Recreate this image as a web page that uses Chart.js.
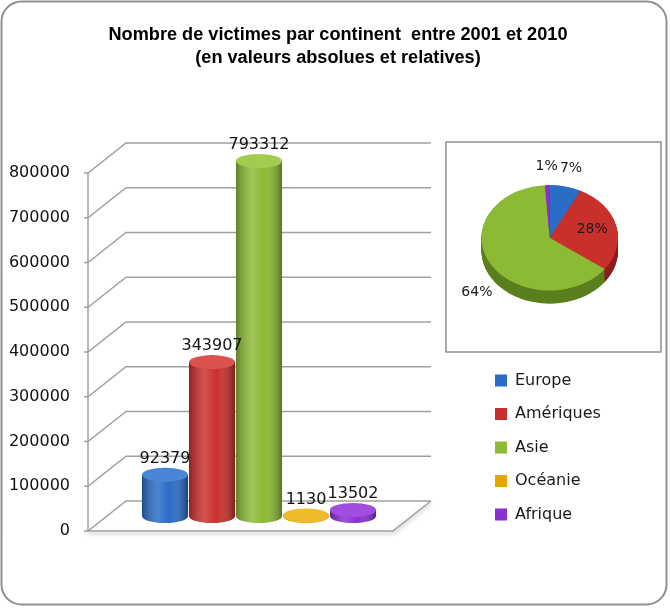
<!DOCTYPE html>
<html lang="fr">
<head>
<meta charset="utf-8">
<title>Nombre de victimes par continent entre 2001 et 2010</title>
<script src="https://cdn.jsdelivr.net/npm/chart.js@4.4.1/dist/chart.umd.min.js"></script>
<style>
  html, body { margin: 0; padding: 0; background: #fff; }
  #wrap { position: relative; width: 670px; height: 608px; }
  #bars { position: absolute; left: 0; top: 0; }
  #pie { position: absolute; left: 440px; top: 120px; }
</style>
</head>
<body>
<div id="wrap">
  <canvas id="bars" width="670" height="608"></canvas>
  <canvas id="pie" width="230" height="418"></canvas>
</div>
<script>
// data
const categories = ['Europe', 'Amériques', 'Asie', 'Océanie', 'Afrique'];
const victims = [92379, 343907, 793312, 1130, 13502];
const yTicks = [0, 100000, 200000, 300000, 400000, 500000, 600000, 700000, 800000];
const titleLines = ['Nombre de victimes par continent  entre 2001 et 2010', '(en valeurs absolues et relatives)'];

// colours
const colors = ['#2a6cc6', '#c9302c', '#8cba35', '#e3a600', '#8a2fd2'];
const capColors = ['#4a86d6', '#d9524d', '#a2cb4f', '#efbb2a', '#a04ee0'];
const sideColors = ['#1b4b8e', '#8c1d1d', '#5b7f1e', '#a87a00', '#5d1c94'];

const FONT = "'DejaVu Sans', sans-serif";

// fake 3d geometry (pixels)
const FRAME = { left: 88, right: 393, dx: 38, dy: -30 };
const BAR_SHIFT = { x: 19, y: -15 };
const CAP = 7;
const PIE = { sx: 0.945, sy: 0.73, depth: 13, drop: 10 };
const pieLabelK = [1.35, 0.64, 1.22, 1.3, 1.35];
const TITLE = { x: 338, y: [40, 63], width: 459, font: "bold 17.5px 'Liberation Sans', Arial, sans-serif" };

function roundedRect(ctx, x, y, w, h, r) {
  ctx.beginPath();
  ctx.moveTo(x + r, y);
  ctx.arcTo(x + w, y, x + w, y + h, r);
  ctx.arcTo(x + w, y + h, x, y + h, r);
  ctx.arcTo(x, y + h, x, y, r);
  ctx.arcTo(x, y, x + w, y, r);
  ctx.closePath();
}

const barFrame = {
  id: 'barFrame',
  beforeDraw(chart) {
    const ctx = chart.ctx, ys = chart.scales.y;
    ctx.save();
    ctx.strokeStyle = '#8f8f8f';
    ctx.lineWidth = 2;
    roundedRect(ctx, 1.5, 1.5, 665, 603, 20);
    ctx.stroke();

    // title, squeezed horizontally like the original
    ctx.font = TITLE.font;
    ctx.fillStyle = '#000';
    ctx.textAlign = 'center';
    ctx.textBaseline = 'alphabetic';
    const squeeze = TITLE.width / ctx.measureText(titleLines[0]).width;
    titleLines.forEach((line, i) => {
      ctx.save();
      ctx.translate(TITLE.x, TITLE.y[i]);
      ctx.scale(squeeze, 1);
      ctx.fillText(line, 0, 0);
      ctx.restore();
    });

    ctx.strokeStyle = '#a0a0a0';
    ctx.lineWidth = 1.5;
    yTicks.forEach(v => {
      const y = ys.getPixelForValue(v);
      ctx.beginPath();
      ctx.moveTo(FRAME.left - 4, y);
      ctx.lineTo(FRAME.left, y);
      ctx.lineTo(FRAME.left + FRAME.dx, y + FRAME.dy);
      ctx.lineTo(FRAME.right + FRAME.dx, y + FRAME.dy);
      ctx.stroke();
    });
    const y0 = ys.getPixelForValue(0);
    const yTop = ys.getPixelForValue(yTicks[yTicks.length - 1]);
    ctx.beginPath();
    ctx.moveTo(FRAME.left, yTop);
    ctx.lineTo(FRAME.left, y0);
    ctx.stroke();
    // floor front edge with a soft shadow
    ctx.shadowColor = 'rgba(0,0,0,0.35)';
    ctx.shadowBlur = 4;
    ctx.shadowOffsetY = 2;
    ctx.beginPath();
    ctx.moveTo(FRAME.left, y0);
    ctx.lineTo(FRAME.right, y0);
    ctx.lineTo(FRAME.right + FRAME.dx, y0 + FRAME.dy);
    ctx.stroke();
    ctx.restore();
  }
};

const cylinders = {
  id: 'cylinders',
  beforeDatasetsDraw(chart) {
    const ctx = chart.ctx;
    ctx.save();
    ctx.translate(BAR_SHIFT.x, BAR_SHIFT.y);
    chart.getDatasetMeta(0).data.forEach((bar, i) => {
      const { x, base, width } = bar.getProps(['x', 'base', 'width']);
      ctx.beginPath();
      ctx.ellipse(x, base, width / 2, CAP, 0, 0, Math.PI * 2);
      ctx.fillStyle = colors[i];
      ctx.fill();
    });
  },
  afterDatasetsDraw(chart) {
    const ctx = chart.ctx;
    const bars = chart.getDatasetMeta(0).data;
    bars.forEach((bar, i) => {
      const { x, y, base, width } = bar.getProps(['x', 'y', 'base', 'width']);
      const l = x - width / 2, r = x + width / 2;
      const g = ctx.createLinearGradient(l, 0, r, 0);
      g.addColorStop(0, 'rgba(0,0,0,0.30)');
      g.addColorStop(0.35, 'rgba(255,255,255,0.16)');
      g.addColorStop(0.6, 'rgba(255,255,255,0)');
      g.addColorStop(1, 'rgba(0,0,0,0.38)');
      ctx.beginPath();
      ctx.moveTo(l, y);
      ctx.lineTo(l, base);
      ctx.ellipse(x, base, width / 2, CAP, 0, Math.PI, 0, true);
      ctx.lineTo(r, y);
      ctx.closePath();
      ctx.fillStyle = g;
      ctx.fill();

      ctx.beginPath();
      ctx.ellipse(x, y, width / 2, CAP, 0, 0, Math.PI * 2);
      ctx.fillStyle = capColors[i];
      ctx.fill();
    });
    ctx.font = '16px ' + FONT;
    ctx.fillStyle = '#111';
    ctx.textAlign = 'center';
    ctx.textBaseline = 'bottom';
    bars.forEach((bar, i) => {
      const { x, y } = bar.getProps(['x', 'y']);
      ctx.fillText(String(victims[i]), x, y - CAP - 1);
    });
    ctx.restore();
  }
};

new Chart(document.getElementById('bars'), {
  type: 'bar',
  data: {
    labels: categories,
    datasets: [{
      data: victims,
      backgroundColor: colors,
      borderWidth: 0,
      barPercentage: 1,
      categoryPercentage: 0.98,
      clip: false
    }]
  },
  options: {
    responsive: false,
    animation: false,
    layout: { padding: { left: 0, right: 312.5, top: 173, bottom: 77 } },
    scales: {
      x: { display: false },
      y: {
        min: 0,
        max: 800000,
        afterBuildTicks: s => { s.ticks = yTicks.map(v => ({ value: v })); },
        afterFit: s => { s.width = 122.5; },
        grid: { display: false, drawTicks: false },
        border: { display: false },
        ticks: { padding: 52.5, color: '#111', font: { family: FONT, size: 16 }, callback: v => String(v) }
      }
    },
    plugins: {
      legend: { display: false },
      tooltip: { enabled: false },
      title: { display: false }
    }
  },
  plugins: [barFrame, cylinders]
});

const pie3d = {
  id: 'pie3d',
  beforeDraw(chart) {
    const ctx = chart.ctx;
    ctx.save();
    ctx.strokeStyle = '#8f8f8f';
    ctx.lineWidth = 1.5;
    ctx.strokeRect(6, 22, 215, 210);
    ctx.restore();
  },
  beforeDatasetsDraw(chart) {
    const ctx = chart.ctx;
    const arcs = chart.getDatasetMeta(0).data;
    const { x: cx, y: cy } = arcs[0].getProps(['x', 'y']);
    ctx.save();
    ctx.translate(cx, cy);
    ctx.scale(PIE.sx, PIE.sy);
    ctx.translate(-cx, -cy);
    const steps = Math.ceil(PIE.depth / PIE.sy);
    for (let t = steps; t >= 1; t--) {
      arcs.forEach((arc, i) => {
        const p = arc.getProps(['startAngle', 'endAngle', 'outerRadius']);
        ctx.beginPath();
        ctx.moveTo(cx, cy + t);
        ctx.arc(cx, cy + t, p.outerRadius, p.startAngle, p.endAngle);
        ctx.closePath();
        ctx.fillStyle = sideColors[i];
        ctx.fill();
      });
    }
  },
  afterDatasetsDraw(chart) {
    const ctx = chart.ctx;
    ctx.restore();
    const arcs = chart.getDatasetMeta(0).data;
    const total = victims.reduce((a, b) => a + b, 0);
    ctx.save();
    ctx.font = '14px ' + FONT;
    ctx.fillStyle = '#1a1a1a';
    ctx.textAlign = 'center';
    ctx.textBaseline = 'middle';
    arcs.forEach((arc, i) => {
      const pct = Math.round(victims[i] / total * 100);
      if (!pct) return;
      const p = arc.getProps(['startAngle', 'endAngle', 'outerRadius', 'x', 'y']);
      const a = (p.startAngle + p.endAngle) / 2;
      const k = pieLabelK[i];
      const x = p.x + Math.cos(a) * p.outerRadius * k * PIE.sx;
      let y = p.y + Math.sin(a) * p.outerRadius * k * PIE.sy;
      if (Math.sin(a) > 0.3) y += PIE.depth + PIE.drop;
      ctx.fillText(pct + '%', x, y);
    });
    ctx.restore();
  }
};

new Chart(document.getElementById('pie'), {
  type: 'pie',
  data: {
    labels: categories,
    datasets: [{ data: victims, backgroundColor: colors, borderWidth: 0, clip: false }]
  },
  options: {
    responsive: false,
    animation: false,
    layout: { padding: { left: 37.5, right: 48, top: 0.5, bottom: 5.5 } },
    plugins: {
      tooltip: { enabled: false },
      legend: {
        position: 'bottom',
        align: 'start',
        labels: { boxWidth: 12, boxHeight: 12, padding: 17.5, color: '#1a1a1a', font: { family: FONT, size: 16 } }
      }
    }
  },
  plugins: [pie3d]
});
</script>
</body>
</html>
